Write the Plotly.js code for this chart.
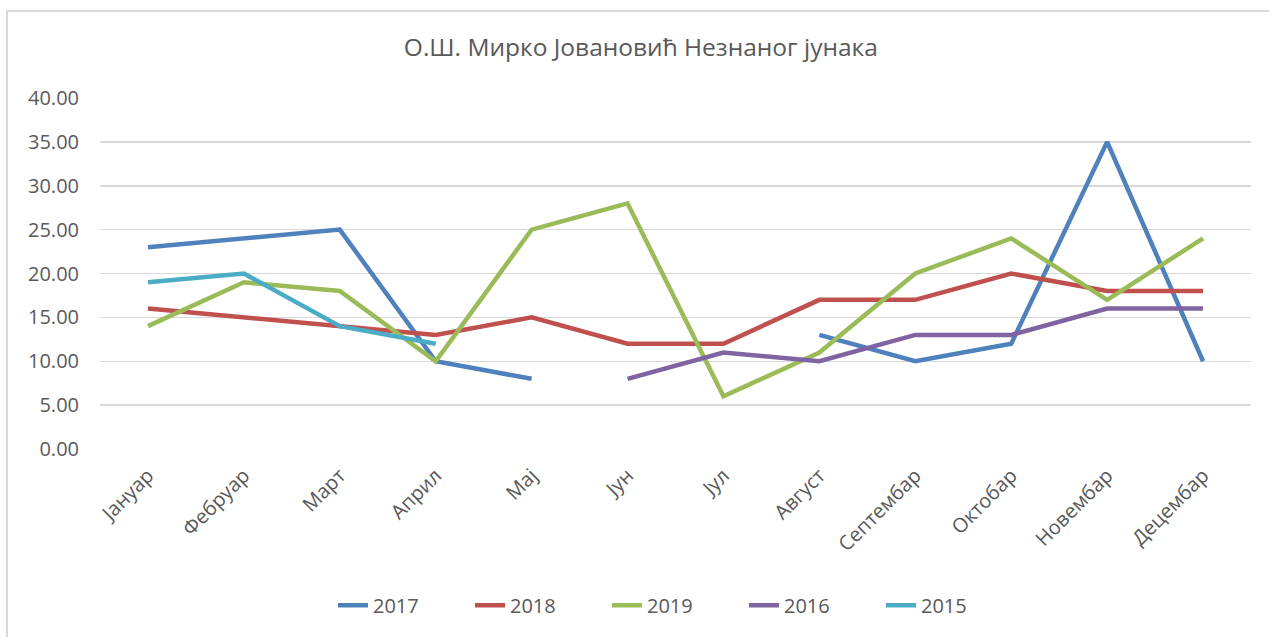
<!DOCTYPE html>
<html>
<head>
<meta charset="utf-8">
<script src="https://cdn.plot.ly/plotly-3.0.1.min.js"></script>
<style>
html,body{margin:0;padding:0;background:#fff;}
#wrap{position:relative;width:1269px;height:637px;}
#chart{width:1269px;height:637px;}
#frame{position:absolute;left:6px;top:10px;width:1300px;height:700px;border-left:2px solid #d9d9d9;border-top:2px solid #d9d9d9;pointer-events:none;}
</style>
</head>
<body>
<div id="wrap"><div id="chart"></div><div id="frame"></div></div>
<script>
const months = ["Јануар","Фебруар","Март","Април","Мај","Јун","Јул","Август","Септембар","Октобар","Новембар","Децембар"];
const y2017 = [23, 24, 25, 10, 8, null, null, 13, 10, 12, 35, 10];
const y2018 = [16, 15, 14, 13, 15, 12, 12, 17, 17, 20, 18, 18];
const y2019 = [14, 19, 18, 10, 25, 28, 6, 11, 20, 24, 17, 24];
const y2016 = [null, null, null, null, null, 8, 11, 10, 13, 13, 16, 16];
const y2015 = [19, 20, 14, 12, null, null, null, null, null, null, null, null];
const yTicks = [0, 5, 10, 15, 20, 25, 30, 35, 40];

const series = [
  {name: "2017", y: y2017, color: "#4F81BD"},
  {name: "2018", y: y2018, color: "#C0504D"},
  {name: "2019", y: y2019, color: "#9BBB59"},
  {name: "2016", y: y2016, color: "#8064A2"},
  {name: "2015", y: y2015, color: "#4BACC6"}
];

const traces = series.map(s => ({
  type: "scatter", mode: "lines", name: s.name,
  x: months, y: s.y, connectgaps: false,
  line: {color: s.color, width: 4.5, shape: "linear"},
  hoverinfo: "skip"
}));

const fam = "Open Sans, Liberation Sans, sans-serif";

const layout = {
  width: 1269, height: 637,
  margin: {l: 100, r: 18, t: 98, b: 188},
  paper_bgcolor: "#ffffff", plot_bgcolor: "#ffffff",
  font: {family: fam, color: "#595959", size: 19},
  title: {text: "О.Ш. Мирко Јовановић Незнаног јунака", x: 0.505, xanchor: "center", xref: "container", y: 0.925, yanchor: "middle", font: {size: 24.5, color: "#595959", family: fam}},
  showlegend: true,
  legend: {orientation: "h", x: 0.5, xanchor: "center", y: -0.445, yanchor: "middle", font: {size: 20, color: "#595959", family: fam}, traceorder: "normal", entrywidth: 92},
  xaxis: {
    type: "category", categoryorder: "array", categoryarray: months,
    range: [-0.5, 11.5], showgrid: false, zeroline: false, showline: false,
    ticks: "", tickangle: -45, ticklabelstandoff: 10, tickfont: {size: 20, color: "#595959", family: fam}, fixedrange: true
  },
  yaxis: {
    range: [0, 40], tickvals: yTicks, tickformat: ".2f",
    showgrid: true, gridcolor: "#d9d9d9", gridwidth: 1.5, zeroline: false, showline: false,
    ticks: "", ticklabelstandoff: 20, tickfont: {size: 20, color: "#595959", family: fam}, fixedrange: true
  }
};

Plotly.newPlot("chart", traces, layout, {displayModeBar: false, staticPlot: true});
</script>
</body>
</html>
